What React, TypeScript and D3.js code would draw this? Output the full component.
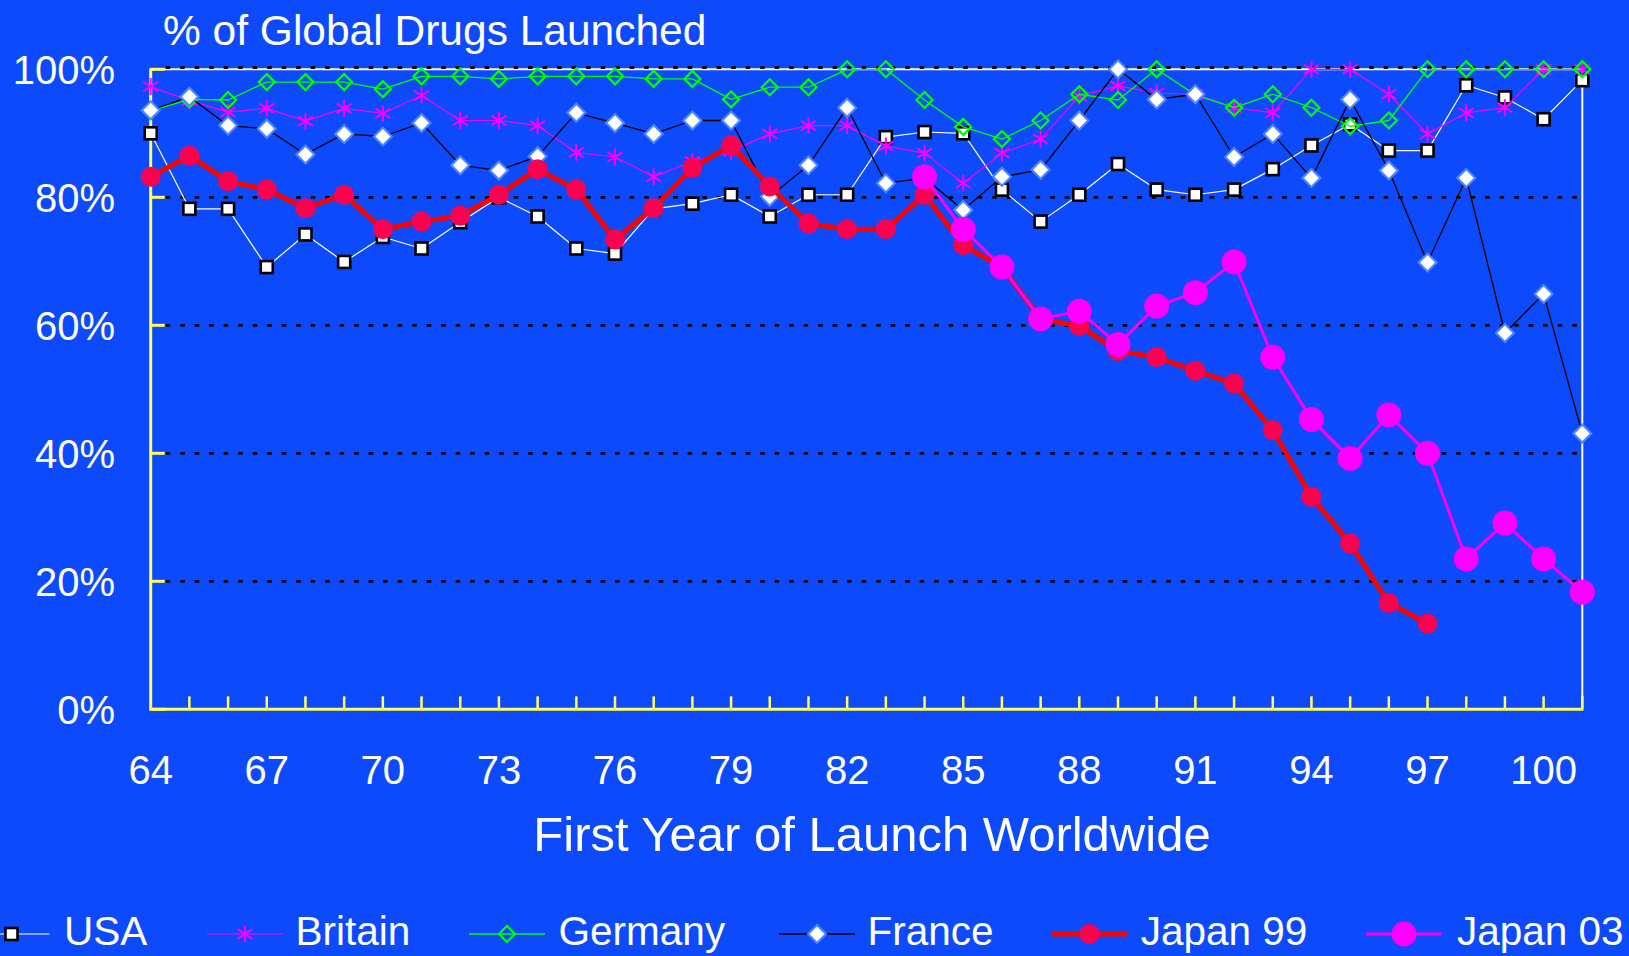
import React from "react";
import * as d3 from "d3";

// years on the category axis (64 .. 101)
const years = d3.range(64, 102);
const yearLabels = [64, 67, 70, 73, 76, 79, 82, 85, 88, 91, 94, 97, 100];
const pctTicks = [0, 20, 40, 60, 80, 100];

// % of global drugs launched, by first year of launch
const usa = [90, 78.2, 78.2, 69.1, 74.2, 69.9, 73.8, 72, 76.1, 80, 77, 72, 71.2, 78.2, 79, 80.4, 77, 80.4, 80.4, 89.4, 90.2, 90, 81.2, 76.2, 80.4, 85.2, 81.2, 80.4, 81.2, 84.4, 88.1, 91.4, 87.3, 87.3, 97.5, 95.6, 92.2, 98.3];
const britain = [97.3, 95.1, 93.3, 93.9, 91.9, 93.9, 93.1, 95.9, 92, 92, 91.2, 87, 86.3, 83.2, 85.6, 87.2, 89.9, 91.2, 91.2, 88, 86.9, 82.2, 86.9, 89.1, 95.8, 97.4, 96.3, 96.1, 94, 93.2, 100, 100, 96.1, 89.9, 93.2, 94, 100, 100];
const germany = [93.5, 95.3, 95.2, 98, 98, 98, 96.9, 98.9, 98.9, 98.5, 98.9, 98.9, 98.9, 98.5, 98.5, 95.3, 97.2, 97.2, 100, 100, 95.2, 91, 89.1, 92, 96.1, 95.2, 100, 96, 94, 96.1, 94, 91.1, 92, 100, 100, 100, 100, 100];
const france = [93.6, 95.7, 91.2, 90.7, 86.7, 89.9, 89.5, 91.6, 85, 84.2, 86.4, 93.2, 91.6, 89.9, 92, 92, 80.1, 85, 94, 82.2, 83, 78, 83.2, 84.3, 92, 100, 95.3, 96.1, 86.3, 89.9, 83, 95.3, 84.2, 69.8, 83, 58.8, 64.9, 43.1];
// Japan 99 runs 64..97, Japan 03 runs 84..101
const japan99 = [83.2, 86.5, 82.5, 81.2, 78.3, 80.4, 75, 76.2, 77.1, 80.4, 84.4, 81.2, 73.4, 78.3, 84.6, 88.1, 81.7, 75.9, 75, 75, 80.4, 72.5, 69.1, 61, 59.9, 56, 55, 52.9, 50.9, 43.6, 33.2, 25.9, 16.6, 13.4];
const japan03 = [83.2, 75, 69.1, 61, 62.2, 57, 63, 65.1, 69.9, 55, 45.3, 39.2, 46, 40, 23.5, 29.1, 23.5, 18.3];

const BG = "#0c4afc";
const YELLOW = "#ffff5e";
const FONT = "'Liberation Sans', Arial, sans-serif";

type Pt = { year: number; v: number | null };

const toPoints = (vals: number[], start: number): Pt[] =>
  years.map((yr) => {
    const i = yr - start;
    return { year: yr, v: i >= 0 && i < vals.length ? vals[i] : null };
  });

const x = d3.scaleLinear().domain([64, 101]).range([150.7, 1582.3]);
const y = d3.scaleLinear().domain([0, 100]).range([709.3, 69.3]);

const Marker = ({ kind, cx, cy }: { kind: string; cx: number; cy: number }) => {
  if (kind === "square")
    return <rect x={cx - 6} y={cy - 6} width={12} height={12} fill="#fff" stroke="#000" strokeWidth={2.6} />;
  if (kind === "star")
    return (
      <path
        d={`M${cx},${cy - 8.5}V${cy + 8.5}M${cx - 7.5},${cy - 4.8}L${cx + 7.5},${cy + 4.8}M${cx - 7.5},${cy + 4.8}L${cx + 7.5},${cy - 4.8}`}
        stroke="#ff00ff"
        strokeWidth={2}
      />
    );
  if (kind === "hollowDiamond")
    return (
      <path d={`M${cx},${cy - 8}L${cx + 8},${cy}L${cx},${cy + 8}L${cx - 8},${cy}Z`} fill="none" stroke="#00ff00" strokeWidth={2.2} />
    );
  if (kind === "diamond")
    return (
      <g>
        <path d={`M${cx},${cy - 10.5}L${cx + 10.5},${cy}L${cx},${cy + 10.5}L${cx - 10.5},${cy}Z`} fill="#4b85ff" />
        <path d={`M${cx},${cy - 7.5}L${cx + 7.5},${cy}L${cx},${cy + 7.5}L${cx - 7.5},${cy}Z`} fill="#fff" />
      </g>
    );
  if (kind === "dot") return <circle cx={cx} cy={cy} r={10} fill="#ff0050" />;
  return <circle cx={cx} cy={cy} r={12.5} fill="#ff00ff" />;
};

const series = [
  { name: "USA", data: toPoints(usa, 64), stroke: "#ffffff", width: 1.2, marker: "square" },
  { name: "Britain", data: toPoints(britain, 64), stroke: "#ff00ff", width: 1.2, marker: "star" },
  { name: "Germany", data: toPoints(germany, 64), stroke: "#00ff00", width: 1.3, marker: "hollowDiamond" },
  { name: "France", data: toPoints(france, 64), stroke: "#000000", width: 1.3, marker: "diamond" },
  { name: "Japan 99", data: toPoints(japan99, 64), stroke: "#ff0000", width: 5, marker: "dot" },
  { name: "Japan 03", data: toPoints(japan03, 84), stroke: "#ff00ff", width: 3, marker: "bigdot" },
];

// legend symbol centres and label starts
const legendCx = [11.5, 245, 507, 817, 1089.5, 1404];
const legendTx = [64, 295.5, 558.6, 867.5, 1140.7, 1457];

const line = d3
  .line<Pt>()
  .defined((d) => d.v !== null)
  .x((d) => x(d.year))
  .y((d) => y(d.v as number));

const App = () => {
  const [x0, x1] = x.range();
  return (
    <svg
      width={1629}
      height={956}
      style={{ position: "fixed", left: 0, top: 0, background: BG }}
      fontFamily={FONT}
    >
      <rect width={1629} height={956} fill={BG} />

      <text x={163} y={45} fill="#fff" fontSize={42.5}>
        % of Global Drugs Launched
      </text>

      {/* plot frame: white top & right */}
      <line x1={x0} x2={x1} y1={y(100)} y2={y(100)} stroke="#fff" strokeWidth={2} />
      <line x1={x1} x2={x1} y1={y(100)} y2={y(0)} stroke="#fff" strokeWidth={2} />

      {/* dotted gridlines */}
      {pctTicks.slice(1).map((t) => (
        <line
          key={t}
          x1={x0 + 15}
          x2={x1 - 4}
          y1={y(t) - (t === 100 ? 1.8 : 0)}
          y2={y(t) - (t === 100 ? 1.8 : 0)}
          stroke="#000"
          strokeWidth={2.8}
          strokeDasharray="4.5 10"
        />
      ))}

      {/* yellow axes */}
      <line x1={x0} x2={x0} y1={y(100) - 1} y2={y(0) + 1.5} stroke={YELLOW} strokeWidth={3} />
      <line x1={x0} x2={x1 + 1} y1={y(0)} y2={y(0)} stroke={YELLOW} strokeWidth={3} />
      {pctTicks.map((t) => (
        <line key={t} x1={x0} x2={x0 + 14} y1={y(t)} y2={y(t)} stroke={YELLOW} strokeWidth={3} />
      ))}
      {years.slice(1).map((yr) => (
        <line key={yr} x1={x(yr)} x2={x(yr)} y1={y(0)} y2={y(0) - 13} stroke={YELLOW} strokeWidth={2.5} />
      ))}

      {pctTicks.map((t) => (
        <text key={t} x={115} y={y(t) + 14.5} fill="#fff" fontSize={40} textAnchor="end">
          {t}%
        </text>
      ))}
      {yearLabels.map((yr) => (
        <text key={yr} x={x(yr)} y={784} fill="#fff" fontSize={40} textAnchor="middle">
          {yr}
        </text>
      ))}

      <text x={872} y={851} fill="#fff" fontSize={49} textAnchor="middle">
        First Year of Launch Worldwide
      </text>

      {series.map((s) => (
        <g key={s.name}>
          <path d={line(s.data) ?? ""} fill="none" stroke={s.stroke} strokeWidth={s.width} strokeLinejoin="round" />
          {s.data
            .filter((d) => d.v !== null)
            .map((d) => (
              <Marker key={d.year} kind={s.marker} cx={x(d.year)} cy={y(d.v as number)} />
            ))}
        </g>
      ))}

      {/* legend */}
      {series.map((s, i) => (
        <g key={s.name}>
          <line
            x1={legendCx[i] - 38}
            x2={legendCx[i] + 38}
            y1={934}
            y2={934}
            stroke={s.stroke}
            strokeWidth={s.width}
          />
          <Marker kind={s.marker} cx={legendCx[i]} cy={934} />
          <text x={legendTx[i]} y={945} fill="#fff" fontSize={40.5}>
            {s.name}
          </text>
        </g>
      ))}
    </svg>
  );
};

export default App;
